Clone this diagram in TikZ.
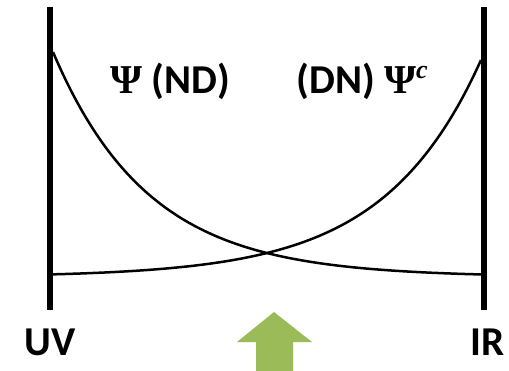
\documentclass[tikz,border=0pt]{standalone}
\usepackage{fontspec}
\setmainfont{Carlito}
\newfontfamily\grk{Liberation Serif}
\definecolor{arrowgreen}{HTML}{9BBB59}
\begin{document}
\begin{tikzpicture}[x=1pt,y=-1pt,
  bar/.style={line width=6pt},
  wave/.style={line width=2.5pt},
  lab/.style={font=\bfseries\fontsize{41}{48}\selectfont, inner sep=0pt, anchor=center}]
\useasboundingbox (0,0) rectangle (509,370);
\coordinate (uvtop) at (50,7);
\coordinate (uvbot) at (50,310);
\coordinate (irtop) at (484,7);
\coordinate (irbot) at (484,310);
\draw[bar] (uvtop) -- (uvbot);
\draw[bar] (irtop) -- (irbot);
\draw[wave] plot[domain=53:481, samples=120, smooth] (\x, {277-225*exp(-0.01046*(\x-53))});
\draw[wave] plot[domain=53:481, samples=120, smooth] (\x, {277-217*exp(-0.01029*(481-\x))});
\node[lab] (psi) at (170,81) {{\grk Ψ} (ND)};
\node[lab] (psic) at (362,81) {(DN) {\grk Ψ\raisebox{0.35em}{\fontsize{26}{30}\selectfont\itshape c}}};
\node[lab] (uv) at (50,342) {UV};
\node[lab] (ir) at (488,342) {IR};
\fill[arrowgreen] (274,312) -- (312,342) -- (293,342) -- (293,371) -- (256,371) -- (256,342) -- (237,342) -- cycle;
\end{tikzpicture}
\end{document}
